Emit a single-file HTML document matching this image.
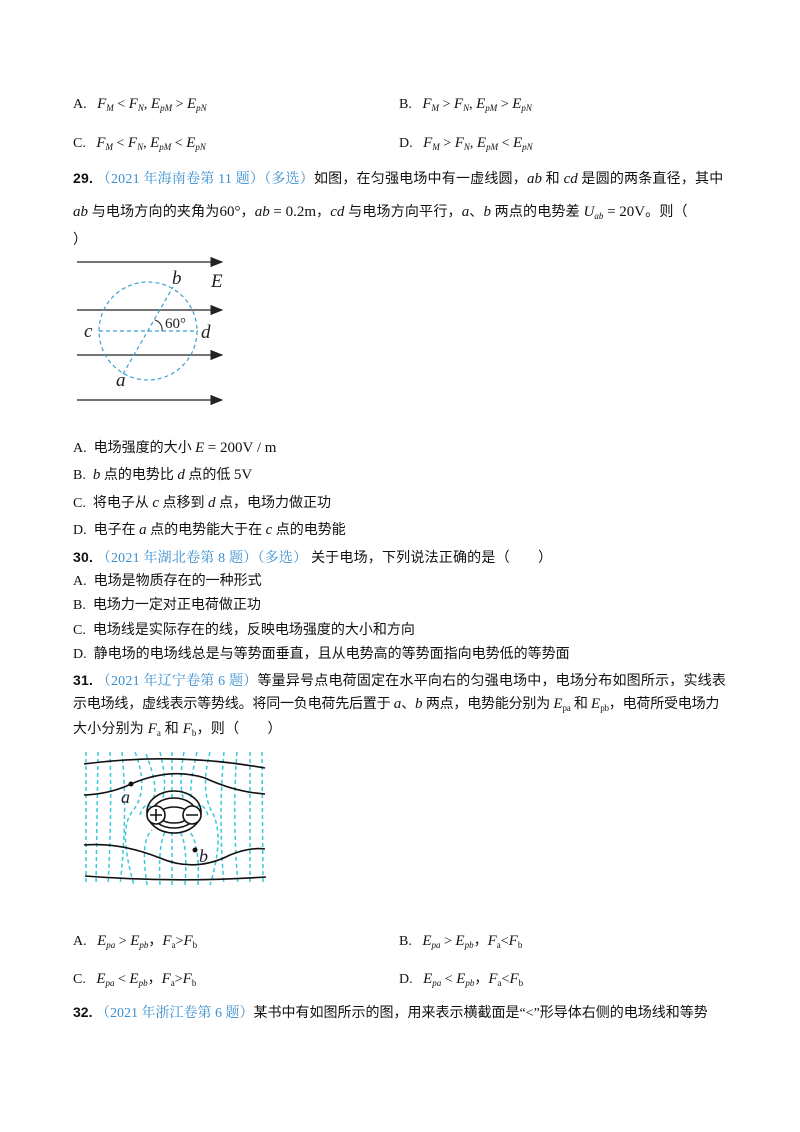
<!DOCTYPE html>
<html><head><meta charset="utf-8"><style>
body{margin:0;background:#fff;}
.pg{position:relative;width:800px;height:1132px;overflow:hidden;font-family:"Liberation Serif","Noto Sans CJK SC",sans-serif;font-size:14px;color:#111;}
.l{position:absolute;left:73px;white-space:nowrap;line-height:18px;}
.w{letter-spacing:0.2px;}
.r{left:399px;}
.b{color:#3a8fd0;font-family:"Liberation Serif","Noto Serif CJK SC",serif;}
.n{font-family:"Liberation Sans",sans-serif;font-weight:bold;}
i{font-family:"Liberation Serif",serif;font-size:15px;letter-spacing:0;}
sub{font-size:9px;vertical-align:-3px;}
.m{font-size:15px;letter-spacing:0;}
</style></head><body><div class="pg">
<div class="l" style="top:95px">A.&nbsp;&nbsp;&nbsp;<i>F<sub>M</sub></i> &lt; <i>F<sub>N</sub></i>, <i>E<sub>pM</sub></i> &gt; <i>E<sub>pN</sub></i></div>
<div class="l r" style="top:95px">B.&nbsp;&nbsp;&nbsp;<i>F<sub>M</sub></i> &gt; <i>F<sub>N</sub></i>, <i>E<sub>pM</sub></i> &gt; <i>E<sub>pN</sub></i></div>
<div class="l" style="top:134px">C.&nbsp;&nbsp;&nbsp;<i>F<sub>M</sub></i> &lt; <i>F<sub>N</sub></i>, <i>E<sub>pM</sub></i> &lt; <i>E<sub>pN</sub></i></div>
<div class="l r" style="top:134px">D.&nbsp;&nbsp;&nbsp;<i>F<sub>M</sub></i> &gt; <i>F<sub>N</sub></i>, <i>E<sub>pM</sub></i> &lt; <i>E<sub>pN</sub></i></div>
<div class="l w" style="top:169px"><span class="n">29.</span> <span class="b">（2021 年海南卷第 11 题）（多选）</span>如图，在匀强电场中有一虚线圆，<i>ab</i> 和 <i>cd</i> 是圆的两条直径，其中</div>
<div class="l w" style="top:203px"><i>ab</i> 与电场方向的夹角为<span class="m">60°</span>，<i>ab</i> <span class="m">= 0.2m</span>，<i>cd</i> 与电场方向平行，<i>a</i>、<i>b</i> 两点的电势差 <i>U<sub>ab</sub></i> <span class="m">= 20V</span>。则（</div>
<div class="l" style="top:232px">）</div>
<svg style="position:absolute;left:0;top:0" width="800" height="1132">
<defs><marker id="ar" markerWidth="10" markerHeight="8" refX="9" refY="4" orient="auto"><path d="M0,0 L10,4 L0,8 z" fill="#222"/></marker></defs>
<g stroke="#222" stroke-width="1.3" marker-end="url(#ar)">
<line x1="77" y1="262" x2="222" y2="262"/><line x1="77" y1="310" x2="222" y2="310"/>
<line x1="77" y1="355" x2="222" y2="355"/><line x1="77" y1="400" x2="222" y2="400"/></g>
<g stroke="#3aa0d0" stroke-width="1.2" stroke-dasharray="4,3" fill="none">
<circle cx="148" cy="331" r="49"/><line x1="99" y1="331" x2="198" y2="331"/><line x1="123" y1="374" x2="173" y2="287"/></g>
<path d="M155,320 A10,10 0 0 1 162,331" stroke="#222" fill="none"/>
<g font-family="Liberation Serif,serif" font-style="italic" font-size="19" fill="#222">
<text x="172" y="284">b</text><text x="211" y="287">E</text><text x="84" y="337">c</text><text x="201" y="338">d</text><text x="116" y="386">a</text></g>
<text x="165" y="328" font-family="Liberation Serif,serif" font-size="15" fill="#222">60°</text>
<g stroke="#38c8d8" stroke-width="1.5" stroke-dasharray="4,3" fill="none">
<path d="M86,752 L86,885"/><path d="M98,752 L96,885"/><path d="M110,752 Q112,815 108,885"/><path d="M122,752 Q128,815 120,885"/>
<path d="M135,752 Q150,790 132,812 Q118,830 134,885"/><path d="M146,754 Q160,790 152,800"/><path d="M147,885 Q140,840 152,830"/>
<path d="M160,752 Q168,785 162,800"/><path d="M160,885 Q158,845 165,832"/>
<path d="M172,752 L172,800"/><path d="M172,885 L172,832"/>
<path d="M184,752 Q178,785 184,800"/><path d="M185,885 Q188,845 180,832"/>
<path d="M197,752 Q188,790 192,800"/><path d="M198,885 Q200,845 190,832"/>
<path d="M210,752 Q200,790 212,812 Q225,835 210,885"/><path d="M224,752 Q218,815 224,885"/>
<path d="M237,752 Q232,815 238,885"/><path d="M250,752 L250,885"/><path d="M262,752 L263,885"/>
<path d="M140,815 Q145,800 152,808"/><path d="M208,815 Q202,800 196,808"/></g>
<g stroke="#111" stroke-width="1.6" fill="none">
<path d="M84,764 Q175,752 265,768"/>
<path d="M84,795 Q110,794 131,784 Q170,767 205,778 Q235,792 265,794"/>
<path d="M84,845 Q120,842 160,858 Q195,873 230,855 Q250,847 265,849"/>
<path d="M85,876 Q175,883 266,877"/>
<ellipse cx="174" cy="812" rx="27" ry="21"/><ellipse cx="174" cy="813" rx="22" ry="15"/><ellipse cx="174" cy="815" rx="15" ry="8"/>
<circle cx="156" cy="815" r="9" fill="#fff"/><circle cx="192" cy="815" r="9" fill="#fff"/>
<path d="M150,815 h12 M156,809 v12 M186,815 h12"/></g>
<circle cx="131" cy="784" r="2.5" fill="#111"/><circle cx="195" cy="850" r="2.5" fill="#111"/>
<g font-family="Liberation Serif,serif" font-style="italic" font-size="18" fill="#222"><text x="121" y="803">a</text><text x="199" y="862">b</text></g>
</svg>
<div class="l" style="top:439px">A.&nbsp;&nbsp;电场强度的大小 <i>E</i> <span class="m">= 200V / m</span></div>
<div class="l" style="top:466px">B.&nbsp;&nbsp;<i>b</i> 点的电势比 <i>d</i> 点的低 <span class="m">5V</span></div>
<div class="l" style="top:494px">C.&nbsp;&nbsp;将电子从 <i>c</i> 点移到 <i>d</i> 点，电场力做正功</div>
<div class="l" style="top:521px">D.&nbsp;&nbsp;电子在 <i>a</i> 点的电势能大于在 <i>c</i> 点的电势能</div>
<div class="l w" style="top:548px"><span class="n">30.</span> <span class="b">（2021 年湖北卷第 8 题）（多选）</span> 关于电场，下列说法正确的是（　　）</div>
<div class="l" style="top:573px">A.&nbsp;&nbsp;电场是物质存在的一种形式</div>
<div class="l" style="top:597px">B.&nbsp;&nbsp;电场力一定对正电荷做正功</div>
<div class="l" style="top:622px">C.&nbsp;&nbsp;电场线是实际存在的线，反映电场强度的大小和方向</div>
<div class="l" style="top:646px">D.&nbsp;&nbsp;静电场的电场线总是与等势面垂直，且从电势高的等势面指向电势低的等势面</div>
<div class="l w" style="top:671px"><span class="n">31.</span> <span class="b">（2021 年辽宁卷第 6 题）</span>等量异号点电荷固定在水平向右的匀强电场中，电场分布如图所示，实线表</div>
<div class="l" style="top:695px;letter-spacing:-0.2px">示电场线，虚线表示等势线。将同一负电荷先后置于 <i>a</i>、<i>b</i> 两点，电势能分别为 <i>E</i><sub>pa</sub> 和 <i>E</i><sub>pb</sub>，电荷所受电场力</div>
<div class="l w" style="top:720px">大小分别为 <i>F</i><sub>a</sub> 和 <i>F</i><sub>b</sub>，则（　　）</div>
<div class="l" style="top:932px">A.&nbsp;&nbsp;&nbsp;<i>E<sub>pa</sub></i> &gt; <i>E<sub>pb</sub></i>，<i>F</i><sub>a</sub>&gt;<i>F</i><sub>b</sub></div>
<div class="l r" style="top:932px">B.&nbsp;&nbsp;&nbsp;<i>E<sub>pa</sub></i> &gt; <i>E<sub>pb</sub></i>，<i>F</i><sub>a</sub>&lt;<i>F</i><sub>b</sub></div>
<div class="l" style="top:970px">C.&nbsp;&nbsp;&nbsp;<i>E<sub>pa</sub></i> &lt; <i>E<sub>pb</sub></i>，<i>F</i><sub>a</sub>&gt;<i>F</i><sub>b</sub></div>
<div class="l r" style="top:970px">D.&nbsp;&nbsp;&nbsp;<i>E<sub>pa</sub></i> &lt; <i>E<sub>pb</sub></i>，<i>F</i><sub>a</sub>&lt;<i>F</i><sub>b</sub></div>
<div class="l" style="top:1003px"><span class="n">32.</span> <span class="b">（2021 年浙江卷第 6 题）</span>某书中有如图所示的图，用来表示横截面是“&lt;”形导体右侧的电场线和等势</div>
</div></body></html>
